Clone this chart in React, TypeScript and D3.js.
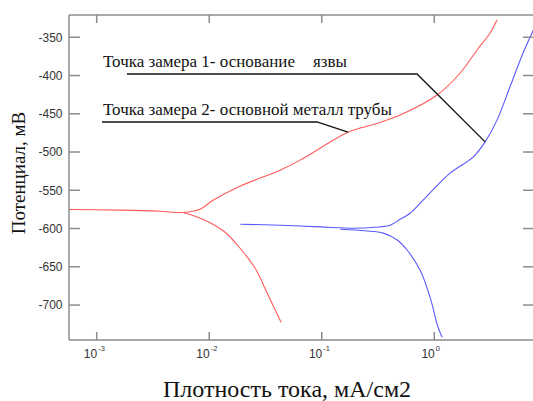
import { useMemo } from "react";
import * as d3 from "d3";

const WIDTH = 533;
const HEIGHT = 401;
// plot box, right edge runs just off the picture
const BOX = { left: 69, right: 534, top: 15, bottom: 340 };

// current density, mA/cm2 (log axis) and potential, mV
const redUpperCurrent = [0.0005, 0.00161, 0.00365, 0.00585, 0.00828, 0.0108, 0.0188, 0.0427, 0.0643, 0.0967, 0.171, 0.298, 0.497, 1.06, 1.7, 2.4, 3.13, 3.61];
const redUpperPotential = [-575, -576, -577.4, -579, -574.8, -563, -544.6, -523.7, -510.6, -495, -474, -463.5, -451.7, -425.5, -396.7, -366.6, -344.4, -327];
const redLowerCurrent = [0.00585, 0.0075, 0.01, 0.01384, 0.0188, 0.0256, 0.0334, 0.0435];
const redLowerPotential = [-579, -583.9, -591.8, -604.9, -625.8, -652, -687.3, -722.6];

const blueUpperCurrent = [0.0189, 0.0427, 0.0967, 0.19, 0.298, 0.405, 0.497, 0.61, 0.795, 1.38, 2.21, 2.83, 3.61, 4.71, 6.15, 7.39, 8.7];
const blueUpperPotential = [-594.4, -595.7, -597.9, -599.6, -598.3, -595.7, -587.9, -580, -563, -527.6, -506.7, -486.7, -458.3, -414.7, -370.6, -344.4, -321];
const blueLowerCurrent = [0.146, 0.243, 0.352, 0.468, 0.575, 0.749, 0.918, 1.08, 1.175];
const blueLowerPotential = [-601, -603, -606, -615, -628.4, -654.6, -690, -729, -742];

const xTicks = [0.001, 0.01, 0.1, 1];
const xTickExp = ["-3", "-2", "-1", "0"];
const yTicks = [-700, -650, -600, -550, -500, -450, -400, -350];

const AXIS = "#8c8c8c";
const SERIF = "'Liberation Serif', 'Times New Roman', serif";
const SANS = "'Liberation Sans', Arial, sans-serif";

const zip = (xs: number[], ys: number[]) => xs.map((x, i) => [x, ys[i]] as [number, number]);

export default function App() {
  const xScale = useMemo(
    () =>
      d3
        .scaleLog()
        .domain([Math.pow(10, -3.246), Math.pow(10, 0.886)])
        .range([BOX.left, BOX.right]),
    []
  );
  const yScale = useMemo(
    () => d3.scaleLinear().domain([-745.7, -320.9]).range([BOX.bottom, BOX.top]),
    []
  );

  const line = d3
    .line<[number, number]>()
    .x((d) => xScale(d[0]))
    .y((d) => yScale(d[1]))
    .curve(d3.curveCatmullRom.alpha(0.5));

  const curves = [
    { d: line(zip(redUpperCurrent, redUpperPotential)), color: "#ff5a5a" },
    { d: line(zip(redLowerCurrent, redLowerPotential)), color: "#ff5a5a" },
    { d: line(zip(blueUpperCurrent, blueUpperPotential)), color: "#5a5aff" },
    { d: line(zip(blueLowerCurrent, blueLowerPotential)), color: "#5a5aff" },
  ];

  return (
    <div style={{ position: "absolute", left: 0, top: 0 }}>
      <svg width={WIDTH} height={HEIGHT} style={{ display: "block", background: "#fff" }}>
        <defs>
          <clipPath id="plot-clip">
            <rect x={BOX.left} y={BOX.top} width={BOX.right - BOX.left} height={BOX.bottom - BOX.top} />
          </clipPath>
        </defs>

        {/* curves */}
        <g clipPath="url(#plot-clip)" fill="none" strokeWidth={1.1}>
          {curves.map((c, i) => (
            <path key={i} d={c.d || ""} stroke={c.color} />
          ))}
        </g>

        {/* frame: left, top, bottom */}
        <g stroke={AXIS} strokeWidth={1.5} fill="none">
          <line x1={BOX.left} x2={BOX.left} y1={BOX.top} y2={BOX.bottom} />
          <line x1={BOX.left} x2={BOX.right} y1={BOX.top} y2={BOX.top} />
          <line x1={BOX.left} x2={BOX.right} y1={BOX.bottom} y2={BOX.bottom} />
        </g>

        {/* y ticks both sides */}
        {yTicks.map((t) => (
          <g key={t} transform={`translate(0,${yScale(t)})`}>
            <line x1={BOX.left} x2={BOX.left + 11} stroke={AXIS} strokeWidth={1.5} />
            <line x1={BOX.right - 11} x2={BOX.right} stroke={AXIS} strokeWidth={1.5} />
            <text x={BOX.left - 6.5} dy="0.36em" textAnchor="end" fontFamily={SANS} fontSize={12} fill="#333">
              {t}
            </text>
          </g>
        ))}

        {/* x ticks top and bottom */}
        {xTicks.map((t, i) => (
          <g key={t} transform={`translate(${xScale(t)},0)`}>
            <line y1={BOX.bottom} y2={BOX.bottom - 8} stroke={AXIS} strokeWidth={1.5} />
            <line y1={BOX.top} y2={BOX.top + 8} stroke={AXIS} strokeWidth={1.5} />
            <text x={0.5} y={BOX.bottom + 18} textAnchor="end" fontFamily={SANS} fontSize={12} fill="#333">
              10
            </text>
            <text x={1.5} y={BOX.bottom + 11} fontFamily={SANS} fontSize={7.5} fill="#333">
              {xTickExp[i]}
            </text>
          </g>
        ))}

        {/* annotations */}
        <g fontFamily={SERIF} fontSize={17} fill="#111">
          <text x={103} y={66.5}>
            Точка замера 1- основание
          </text>
          <text x={313} y={66.5}>
            язвы
          </text>
          <text x={103} y={114.5}>
            Точка замера 2- основной металл трубы
          </text>
        </g>
        <g stroke="#111" strokeWidth={1.3} fill="none">
          <polyline points={`127,74 417,74 ${xScale(2.83)},${yScale(-486.7)}`} />
          <polyline points={`102,122 317,122 ${xScale(0.171)},${yScale(-474)}`} />
        </g>

        {/* axis titles */}
        <text
          transform={`translate(25,173) rotate(-90)`}
          textAnchor="middle"
          fontFamily={SERIF}
          fontSize={19}
          fill="#111"
        >
          Потенциал, мВ
        </text>
        <text x={287} y={397} textAnchor="middle" fontFamily={SERIF} fontSize={24} fill="#111">
          Плотность тока, мА/см2
        </text>
      </svg>
    </div>
  );
}
